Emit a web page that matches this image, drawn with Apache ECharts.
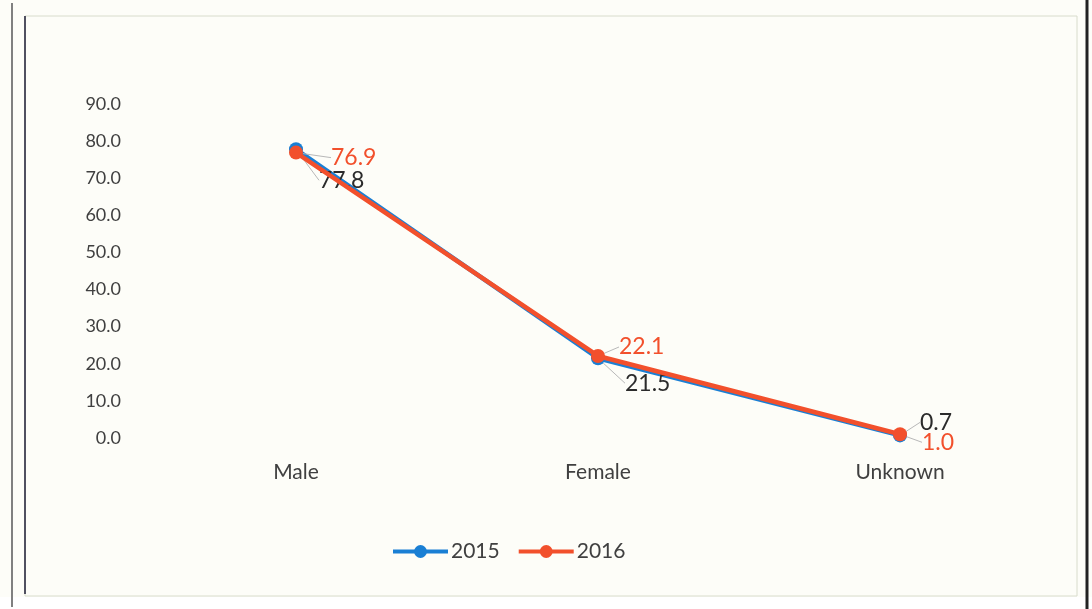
<!DOCTYPE html>
<html>
<head>
<meta charset="utf-8">
<script src="https://cdn.jsdelivr.net/npm/echarts@6/dist/echarts.min.js"></script>
<style>
html,body{margin:0;padding:0;background:#fdfdf8;}
#c{width:1092px;height:609px;}
</style>
</head>
<body>
<div id="c"></div>
<script>
const categories = ['Male', 'Female', 'Unknown'];
const values2015 = [77.8, 21.5, 0.7];
const values2016 = [76.9, 22.1, 1.0];
const yTicks = {min: 0, max: 90, interval: 10};

// label shifts (dx, dy) per point
const shift2015 = [[8, 31], [12, 25], [5, -13]];
const shift2016 = [[20, 5], [6, -9], [7, 8]];

const chart = echarts.init(document.getElementById('c'));
const font = 'Lato, "Open Sans", sans-serif';

function series(name, data, color, labelColor, shifts, z) {
  return {
    name: name,
    type: 'line',
    data: data,
    z: z,
    symbol: 'circle',
    symbolSize: 14,
    lineStyle: {width: 4.5, color: color},
    itemStyle: {color: color},
    label: {
      show: true,
      position: 'right',
      distance: 8,
      color: labelColor,
      fontSize: 23,
      fontFamily: font,
      formatter: p => p.value.toFixed(1)
    },
    labelLine: {show: true, lineStyle: {color: '#b8b8b8', width: 1}},
    labelLayout: function (p) {
      const s = shifts[p.dataIndex];
      return {dx: s[0], dy: s[1]};
    }
  };
}

chart.setOption({
  backgroundColor: '#fdfdf8',
  animation: false,
  grid: {left: 145, right: 41, top: 104, bottom: 171, containLabel: false},
  legend: {
    data: ['2015', '2016'],
    left: 386,
    top: 536,
    itemWidth: 55,
    itemHeight: 16,
    itemGap: 17,
    lineStyle: {width: 4},
    textStyle: {fontSize: 21, color: '#404040', fontFamily: font, padding: [0, 0, 0, -2]}
  },
  xAxis: {
    type: 'category',
    data: categories,
    boundaryGap: true,
    axisLine: {show: false},
    axisTick: {show: false},
    axisLabel: {fontSize: 21, color: '#404040', fontFamily: font, margin: 24}
  },
  yAxis: {
    type: 'value',
    min: yTicks.min,
    max: yTicks.max,
    interval: yTicks.interval,
    splitLine: {show: false},
    axisLine: {show: false},
    axisTick: {show: false},
    axisLabel: {fontSize: 18, color: '#404040', fontFamily: font, margin: 24,
      formatter: v => v.toFixed(1)}
  },
  series: [
    series('2015', values2015, '#1a7fd4', '#2b2b2b', shift2015, 2),
    series('2016', values2016, '#f2502c', '#f2502c', shift2016, 3)
  ],
  graphic: [
    {type: 'rect', shape: {x: 0, y: 597, width: 1092, height: 12}, style: {fill: '#ffffff'}, silent: true, z: -1},
    {type: 'line', shape: {x1: 12, y1: 3, x2: 12, y2: 607}, style: {stroke: '#808080', lineWidth: 2}, silent: true},
    {type: 'rect', shape: {x: 25, y: 16, width: 1052, height: 580}, style: {fill: 'none', stroke: '#d8dccc', lineWidth: 1}, silent: true},
    {type: 'line', shape: {x1: 25, y1: 16, x2: 25, y2: 594}, style: {stroke: '#505060', lineWidth: 2}, silent: true},
    {type: 'line', shape: {x1: 1087, y1: 0, x2: 1087, y2: 609}, style: {stroke: '#222', lineWidth: 3}, silent: true}
  ]
});
</script>
</body>
</html>
